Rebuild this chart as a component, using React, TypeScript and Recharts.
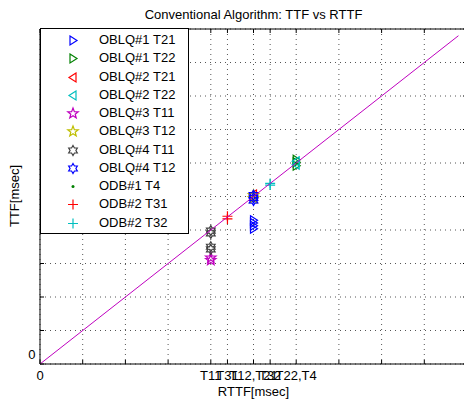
import React from "react";
import {
  ScatterChart,
  Scatter,
  XAxis,
  YAxis,
  CartesianGrid,
  ReferenceLine,
  Legend,
} from "recharts";

// tick values and their labels
const xTickValues = [0, 1, 2, 3, 4, 4.39, 5, 5.39, 6, 7, 8, 9, 10];
const xTickNames = ["0", "", "", "", "T11", "T31", "T12,T21", "T32", "T22,T4", "", "", "", ""];
const yTickValues = [0, 1, 2, 3, 4, 5, 6, 7, 8, 9, 10];
const yTickNames = ["0", "", "", "", "", "", "", "", "", "", ""];

// series
const seriesNames = [
  "OBLQ#1 T21",
  "OBLQ#1 T22",
  "OBLQ#2 T21",
  "OBLQ#2 T22",
  "OBLQ#3 T11",
  "OBLQ#3 T12",
  "OBLQ#4 T11",
  "OBLQ#4 T12",
  "ODB#1 T4",
  "ODB#2 T31",
  "ODB#2 T32",
];
const seriesX = [5, 6, 5, 6, 4, 5, 4, 5, 6, 4.39, 5.39];
const seriesY = [
  [4.04, 4.13, 4.21, 4.29],
  [5.92, 6.02, 6.1],
  [4.97, 5.06],
  [5.95, 6.05],
  [3.1, 3.17],
  [4.95, 5.04],
  [3.42, 3.5, 3.9, 3.98],
  [4.88, 4.96, 5.04],
  [6.0],
  [4.33, 4.41],
  [5.34, 5.39],
];
const seriesColors = [
  "#0000ff",
  "#008000",
  "#ff0000",
  "#00bfbf",
  "#bf00bf",
  "#bfbf00",
  "#404040",
  "#0000ff",
  "#008000",
  "#ff0000",
  "#00bfbf",
];
const seriesMarkers = ["right", "right", "left", "left", "pent", "pent", "hex", "hex", "dot", "plus", "plus"];

// the y = x reference line
const diagX = [0, 9.8];
const diagY = [0, 9.8];

const W = 480;
const H = 401;
const M = { top: 29, right: 13, bottom: 36, left: 39 };
const plotW = W - M.left - 1 - M.right;
const plotH = H - M.top - M.bottom - 1;
const FONT = "'Liberation Sans', Arial, Helvetica, sans-serif";

function Marker({ cx, cy, kind, color }: any) {
  if (cx == null || cy == null) return <g />;
  const sw = 1.2;
  switch (kind) {
    case "right":
      return (
        <polygon
          points={`${cx - 3},${cy - 4.5} ${cx + 4},${cy} ${cx - 3},${cy + 4.5}`}
          fill="none"
          stroke={color}
          strokeWidth={sw}
        />
      );
    case "left":
      return (
        <polygon
          points={`${cx + 3},${cy - 4.5} ${cx - 4},${cy} ${cx + 3},${cy + 4.5}`}
          fill="none"
          stroke={color}
          strokeWidth={sw}
        />
      );
    case "pent": {
      const pts = [];
      for (let i = 0; i < 10; i++) {
        const r = i % 2 === 0 ? 5.5 : 2.3;
        const a = -Math.PI / 2 + (i * Math.PI) / 5;
        pts.push(`${cx + r * Math.cos(a)},${cy + r * Math.sin(a)}`);
      }
      return <polygon points={pts.join(" ")} fill="none" stroke={color} strokeWidth={sw} />;
    }
    case "hex": {
      const pts = [];
      for (let i = 0; i < 12; i++) {
        const r = i % 2 === 0 ? 5 : 2.9;
        const a = -Math.PI / 2 + (i * Math.PI) / 6;
        pts.push(`${cx + r * Math.cos(a)},${cy + r * Math.sin(a)}`);
      }
      return <polygon points={pts.join(" ")} fill="none" stroke={color} strokeWidth={sw} />;
    }
    case "dot":
      return <circle cx={cx} cy={cy} r={1.5} fill={color} />;
    case "plus":
      return (
        <path
          d={`M${cx - 5},${cy}H${cx + 5}M${cx},${cy - 5}V${cy + 5}`}
          stroke={color}
          strokeWidth={sw}
          fill="none"
        />
      );
    default:
      return <g />;
  }
}

function XTick({ x, y, payload }: any) {
  const i = xTickValues.indexOf(payload.value);
  return (
    <g>
      <line x1={x} y1={y} x2={x} y2={y - 4} stroke="#000" />
      <line x1={x} y1={y - plotH} x2={x} y2={y - plotH + 4} stroke="#000" />
      <text x={x} y={y + 16} textAnchor="middle" fontSize={13} fontFamily={FONT} fill="#000">
        {i >= 0 ? xTickNames[i] : ""}
      </text>
    </g>
  );
}

function YTick({ x, y, payload }: any) {
  const i = yTickValues.indexOf(payload.value);
  return (
    <g>
      <line x1={x} y1={y} x2={x + 4} y2={y} stroke="#000" />
      <line x1={x + plotW} y1={y} x2={x + plotW - 4} y2={y} stroke="#000" />
      <text x={x - 4.5} y={y - 5} textAnchor="end" fontSize={13} fontFamily={FONT} fill="#000">
        {i >= 0 ? yTickNames[i] : ""}
      </text>
    </g>
  );
}

function LegendBox() {
  return (
    <div
      style={{
        boxSizing: "border-box",
        width: 149,
        height: 206,
        border: "1px solid #000",
        background: "#fff",
        paddingTop: 2,
        fontFamily: FONT,
        fontSize: 13,
        color: "#000",
      }}
    >
      {seriesNames.map((name, i) => (
        <div key={name} style={{ position: "relative", height: 18.25, lineHeight: "18.25px" }}>
          <svg width={20} height={18} style={{ position: "absolute", left: 21.5, top: 0 }}>
            <Marker cx={10} cy={9.5} kind={seriesMarkers[i]} color={seriesColors[i]} />
          </svg>
          <span style={{ position: "absolute", left: 58, top: 0, whiteSpace: "nowrap" }}>{name}</span>
        </div>
      ))}
    </div>
  );
}

export default function App() {
  const diagData = diagX.map((x, i) => ({ x, y: diagY[i] }));

  return (
    <div
      style={{
        position: "absolute",
        left: 0,
        top: 0,
        width: 464,
        height: 401,
        overflow: "hidden",
        background: "#fff",
        fontFamily: FONT,
      }}
    >
      <div
        style={{
          position: "absolute",
          left: 40,
          width: plotW,
          top: 7,
          textAlign: "center",
          fontSize: 13,
          lineHeight: "16px",
          whiteSpace: "nowrap",
        }}
      >
        Conventional Algorithm: TTF vs RTTF
      </div>
      <ScatterChart width={W} height={H} margin={M}>
        <CartesianGrid stroke="#555" strokeDasharray="1 4" strokeWidth={1} />
        <XAxis
          type="number"
          dataKey="x"
          domain={[0, 10]}
          ticks={xTickValues}
          interval={0}
          height={1}
          tickSize={0}
          tickMargin={0}
          tickLine={false}
          axisLine={{ stroke: "#000" }}
          tick={<XTick />}
          allowDataOverflow
        />
        <YAxis
          type="number"
          dataKey="y"
          domain={[0, 10]}
          ticks={yTickValues}
          interval={0}
          width={1}
          tickSize={0}
          tickMargin={0}
          tickLine={false}
          axisLine={{ stroke: "#000" }}
          tick={<YTick />}
          allowDataOverflow
        />
        <ReferenceLine y={10} stroke="#000" />
        <ReferenceLine x={10} stroke="#000" />
        {seriesNames.map((name, i) => (
          <Scatter
            key={name}
            name={name}
            data={seriesY[i].map((y) => ({ x: seriesX[i], y }))}
            isAnimationActive={false}
            shape={(p: any) => <Marker cx={p.cx} cy={p.cy} kind={seriesMarkers[i]} color={seriesColors[i]} />}
          />
        ))}
        <Scatter
          name="y=x"
          data={diagData}
          line={{ stroke: "#bf00bf", strokeWidth: 1 }}
          shape={() => <g />}
          isAnimationActive={false}
          legendType="none"
        />
        <Legend
          layout="vertical"
          align="center"
          verticalAlign="middle"
          wrapperStyle={{ left: 40, top: 28, width: 149 }}
          content={() => <LegendBox />}
        />
      </ScatterChart>
      <div
        style={{
          position: "absolute",
          left: 40,
          width: plotW,
          top: 384,
          textAlign: "center",
          fontSize: 13,
          lineHeight: "16px",
        }}
      >
        RTTF[msec]
      </div>
      <div
        style={{
          position: "absolute",
          left: 15,
          top: 196,
          fontSize: 13,
          lineHeight: "16px",
          whiteSpace: "nowrap",
          transform: "translate(-50%, -50%) rotate(-90deg)",
        }}
      >
        TTF[msec]
      </div>
    </div>
  );
}
